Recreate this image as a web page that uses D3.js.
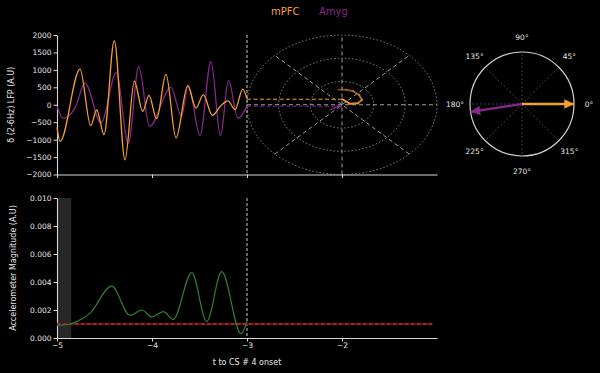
<!DOCTYPE html>
<html>
<head>
<meta charset="utf-8">
<script src="https://d3js.org/d3.v7.min.js"></script>
<style>
  html, body { margin: 0; padding: 0; background: #000; }
  svg { display: block; }
  text { font-family: "DejaVu Sans", sans-serif; fill: #e6e6e6; }
</style>
</head>
<body>
<svg id="chart" width="600" height="373"></svg>
<script>
// ── Daten ──────────────────────────────────────────────
// δ-LFP mPFC (orange) – Stützpunkte (Zeit, Wert)
const mpfcT = [-5.0, -4.968, -4.758, -4.645, -4.582, -4.505, -4.397, -4.284, -4.186, -4.098, -4.032,
  -3.951, -3.853, -3.747, -3.624, -3.537, -3.46, -3.365, -3.28, -3.2, -3.126, -3.045, -3.0];
const mpfcV = [-650, -1050, 1020, -600, -150, -860, 1840, -1580, 680, -190, 270,
  -400, 870, -950, 540, -95, 290, -305, -40, 110, -140, 450, 170];

// δ-LFP Amygdala (lila)
const amygT = [-5.0, -4.934, -4.81, -4.705, -4.537, -4.376, -4.25, -4.139, -4.026, -3.8,
  -3.69, -3.618, -3.495, -3.379, -3.279, -3.195, -3.095, -3.0];
const amygV = [-50, -390, -90, 620, -520, 920, -1110, 1100, -620, 500,
  -330, 570, -880, 1240, -890, 700, -380, -40];

// Phasen-Trajektorie (Realteil = LFP, Imaginärteil = Hilbert), älteste zuerst
const mpfcTrailRe = [435, 430, 387, 287, 143, 43, 29, 158];
const mpfcTrailIm = [-78, 84, 238, 358, 421, 337, 168, 10];
const amygTrailRe = [-143, -100, -43, -40];
const amygTrailIm = [-253, -168, -84, -10];

// Phasenwinkel (Grad) für den Kompass
const phaseLabels = [0, 45, 90, 135, 180, 225, 270, 315];
const mpfcPhase = 0;
const amygPhase = 188.7;

// Beschleunigungssensor
const accT = [-5.0, -4.863, -4.793, -4.653, -4.424, -4.232, -4.108, -4.003, -3.881, -3.776,
  -3.582, -3.424, -3.266, -3.063, -3.0];
const accV = [0.0009, 0.00100, 0.00117, 0.00176, 0.0037, 0.00162, 0.0020, 0.0015, 0.00188, 0.00133,
  0.00467, 0.00118, 0.00474, 0.0003, 0.0012];
const accThreshold = 0.001;
const shadeRange = [-5, -4.85];
const currentT = -3;

const xTicks = [-5, -4, -3, -2];
const lfpTicks = [-2000, -1500, -1000, -500, 0, 500, 1000, 1500, 2000];
const accTicks = [0, 0.002, 0.004, 0.006, 0.008, 0.010];

// ── Farben ─────────────────────────────────────────────
const ORANGE = '#f5a030';
const PURPLE = '#85288c';
const GREEN  = '#2f7f33';
const AXIS   = '#d8d8d8';

const svg = d3.select('#chart');
const fmtMinus = s => s.replace('-', '\u2212');

// ── Skalen ─────────────────────────────────────────────
const x = d3.scaleLinear().domain([-5, -1]).range([57, 437]);
const yLfp = d3.scaleLinear().domain([-2000, 2000]).range([174.5, 35]);
const yAcc = d3.scaleLinear().domain([0, 0.010]).range([338, 198]);

function styleAxis(g) {
  g.selectAll('path.domain').attr('stroke', AXIS).attr('stroke-width', 1.1);
  g.selectAll('.tick line').attr('stroke', AXIS).attr('stroke-width', 1);
  g.selectAll('.tick text').attr('fill', '#e6e6e6').style('font-size', '7.5px')
    .style('font-family', '"DejaVu Sans", sans-serif');
}

// ── Oberes Panel: LFP ──────────────────────────────────
svg.append('g').attr('transform', `translate(${x(-5)},0)`)
  .call(d3.axisLeft(yLfp).tickValues(lfpTicks).tickSize(3.5).tickPadding(2).tickSizeOuter(0)
    .tickFormat(d => fmtMinus(String(d))))
  .call(styleAxis);
svg.append('g').attr('transform', `translate(0,${yLfp(-2000)})`)
  .call(d3.axisBottom(x).tickValues(xTicks).tickSize(3.5).tickSizeOuter(0).tickFormat(''))
  .call(styleAxis);

// Polar-Gitter (Ellipse in Datenkoordinaten: Zentrum t=-2, Wert 0)
const cx = x(-2), cy = yLfp(0);
const rx = x(-1) - x(-2), ry = yLfp(0) - yLfp(2000);
[1 / 3, 2 / 3, 1].forEach(f => {
  svg.append('ellipse')
    .attr('cx', cx).attr('cy', cy).attr('rx', rx * f).attr('ry', ry * f)
    .attr('fill', 'none').attr('stroke', '#9a9a9a').attr('stroke-width', 0.8)
    .attr('stroke-dasharray', '1.6,2');
});
[0, 45, 90, 135].forEach(a => {
  const r = a * Math.PI / 180;
  svg.append('line')
    .attr('x1', cx - rx * Math.cos(r)).attr('y1', cy + ry * Math.sin(r))
    .attr('x2', cx + rx * Math.cos(r)).attr('y2', cy - ry * Math.sin(r))
    .attr('stroke', '#b0b0b0').attr('stroke-width', 0.9).attr('stroke-dasharray', '4,3');
});

// Aktueller Zeitpunkt
svg.append('line')
  .attr('x1', x(currentT)).attr('x2', x(currentT)).attr('y1', yLfp(2000)).attr('y2', yLfp(-2000))
  .attr('stroke', '#c8c8c8').attr('stroke-width', 1).attr('stroke-dasharray', '3,2');

const lfpLine = d3.line().x(d => x(d[0])).y(d => yLfp(d[1])).curve(d3.curveMonotoneX);
svg.append('path').datum(d3.zip(amygT, amygV))
  .attr('d', lfpLine).attr('fill', 'none').attr('stroke', PURPLE).attr('stroke-width', 1.3);
svg.append('path').datum(d3.zip(mpfcT, mpfcV))
  .attr('d', lfpLine).attr('fill', 'none').attr('stroke', ORANGE).attr('stroke-width', 1.3);

// Projektion vom LFP-Endwert zur Trajektorie
const trailX = im => x(-2 + im / 2000);
[[mpfcV, mpfcTrailRe, mpfcTrailIm, ORANGE], [amygV, amygTrailRe, amygTrailIm, PURPLE]]
  .forEach(([vals, re, im, col]) => {
    const last = re.length - 1;
    svg.append('line')
      .attr('x1', x(currentT)).attr('y1', yLfp(re[last]))
      .attr('x2', trailX(im[last])).attr('y2', yLfp(re[last]))
      .attr('stroke', col).attr('stroke-width', 1).attr('stroke-dasharray', '4,2.5');
    for (let i = 0; i < last; i++) {
      svg.append('line')
        .attr('x1', trailX(im[i])).attr('y1', yLfp(re[i]))
        .attr('x2', trailX(im[i + 1])).attr('y2', yLfp(re[i + 1]))
        .attr('stroke', col).attr('stroke-width', 1.8).attr('stroke-linecap', 'round')
        .attr('opacity', 0.35 + 0.65 * (i + 1) / last);
    }
  });

// Legende / Titel
svg.append('text').attr('x', 271).attr('y', 15).style('font-size', '10px')
  .style('fill', ORANGE).text('mPFC');
svg.append('text').attr('x', 319).attr('y', 15).style('font-size', '10px')
  .style('fill', PURPLE).text('Amyg');

svg.append('text')
  .attr('transform', `translate(14,${yLfp(0)}) rotate(-90)`)
  .attr('text-anchor', 'middle').style('font-size', '8px')
  .text('δ (2-6Hz) LFP (A.U)');

// ── Kompass rechts ─────────────────────────────────────
const kx = 522, ky = 104, kr = 52;
const defs = svg.append('defs');
[['head-o', ORANGE], ['head-p', PURPLE]].forEach(([id, col]) => {
  defs.append('marker').attr('id', id)
    .attr('viewBox', '0 -5 10 10').attr('refX', 10).attr('refY', 0)
    .attr('markerWidth', 4.5).attr('markerHeight', 4).attr('orient', 'auto')
    .attr('markerUnits', 'strokeWidth')
    .append('path').attr('d', 'M0,-5L10,0L0,5Z').attr('fill', col);
});
phaseLabels.forEach(a => {
  const r = a * Math.PI / 180;
  svg.append('line')
    .attr('x1', kx).attr('y1', ky)
    .attr('x2', kx + kr * Math.cos(r)).attr('y2', ky - kr * Math.sin(r))
    .attr('stroke', '#5a5a5a').attr('stroke-width', 0.7).attr('stroke-dasharray', '2,2');
  svg.append('text')
    .attr('x', kx + 67 * Math.cos(r)).attr('y', ky - 67 * Math.sin(r))
    .attr('text-anchor', 'middle').attr('dy', '0.35em').style('font-size', '7.5px')
    .text(a + '°');
});
svg.append('circle').attr('cx', kx).attr('cy', ky).attr('r', kr)
  .attr('fill', 'none').attr('stroke', '#d0d0d0').attr('stroke-width', 1.2);
[[mpfcPhase, ORANGE, 'head-o'], [amygPhase, PURPLE, 'head-p']].forEach(([a, col, id]) => {
  const r = a * Math.PI / 180;
  svg.append('line')
    .attr('x1', kx).attr('y1', ky)
    .attr('x2', kx + kr * Math.cos(r)).attr('y2', ky - kr * Math.sin(r))
    .attr('stroke', col).attr('stroke-width', 2.4).attr('marker-end', `url(#${id})`);
});

// ── Unteres Panel: Beschleunigung ──────────────────────
svg.append('rect')
  .attr('x', x(shadeRange[0])).attr('width', x(shadeRange[1]) - x(shadeRange[0]))
  .attr('y', yAcc(0.010)).attr('height', yAcc(0) - yAcc(0.010))
  .attr('fill', '#272727');

svg.append('g').attr('transform', `translate(${x(-5)},0)`)
  .call(d3.axisLeft(yAcc).tickValues(accTicks).tickSize(3.5).tickPadding(2).tickSizeOuter(0)
    .tickFormat(d3.format('.3f')))
  .call(styleAxis);
svg.append('g').attr('transform', `translate(0,${yAcc(0)})`)
  .call(d3.axisBottom(x).tickValues(xTicks).tickSize(3.5).tickPadding(1).tickSizeOuter(0)
    .tickFormat(d => fmtMinus(String(d))))
  .call(styleAxis);

svg.append('line')
  .attr('x1', x(currentT)).attr('x2', x(currentT)).attr('y1', yAcc(0.010)).attr('y2', yAcc(0))
  .attr('stroke', '#c8c8c8').attr('stroke-width', 1).attr('stroke-dasharray', '3,2');

// Schwelle
svg.append('line')
  .attr('x1', x(-5)).attr('x2', x(-1.05)).attr('y1', yAcc(accThreshold)).attr('y2', yAcc(accThreshold))
  .attr('stroke', '#5c0d0d').attr('stroke-width', 2.4);
svg.append('line')
  .attr('x1', x(-5)).attr('x2', x(-1.05)).attr('y1', yAcc(accThreshold)).attr('y2', yAcc(accThreshold))
  .attr('stroke', '#d04848').attr('stroke-width', 1).attr('stroke-dasharray', '3.5,2.5');

const accLine = d3.line().x(d => x(d[0])).y(d => yAcc(d[1])).curve(d3.curveMonotoneX);
svg.append('path').datum(d3.zip(accT, accV))
  .attr('d', accLine).attr('fill', 'none').attr('stroke', GREEN).attr('stroke-width', 1.2);

svg.append('text')
  .attr('transform', `translate(16,${(yAcc(0) + yAcc(0.010)) / 2}) rotate(-90)`)
  .attr('text-anchor', 'middle').style('font-size', '8px')
  .text('Accelerometer Magnitude (A.U)');
svg.append('text').attr('x', x(-3)).attr('y', 365)
  .attr('text-anchor', 'middle').style('font-size', '8px')
  .text('t to CS # 4 onset');
</script>
</body>
</html>
